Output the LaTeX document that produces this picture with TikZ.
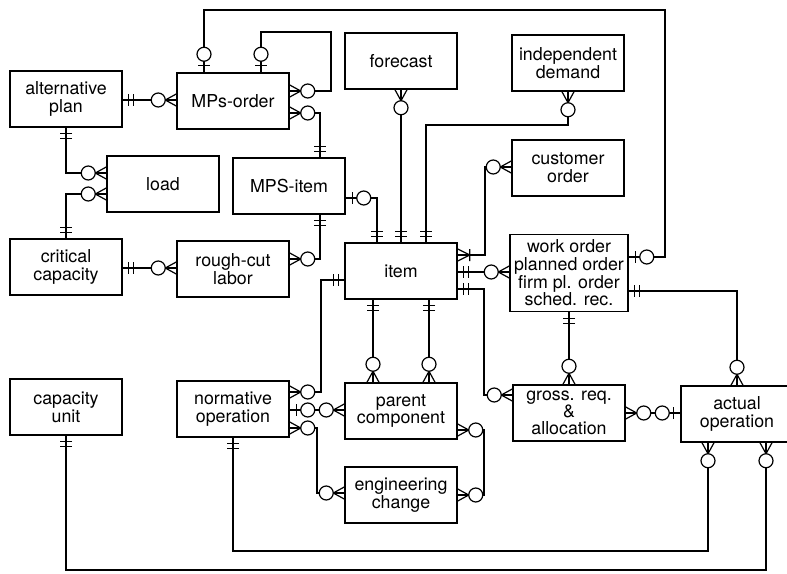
\documentclass[tikz,border=0pt]{standalone}
\usepackage{fontspec}
\setmainfont{TeX Gyre Heros}
\usetikzlibrary{calc}

\begin{document}
\begin{tikzpicture}[
    x=1pt, y=-1pt, line width=1.2pt,
    font=\fontsize{17.8}{17.7}\selectfont,
    ent/.style={draw, line width=1.5pt, align=center, minimum width=112pt, minimum height=56pt, inner sep=2pt},
    one/.pic={\draw (6,-6) -- (6,6) (11,-6) -- (11,6);},
    zone/.pic={\draw (7,-6) -- (7,6); \draw[fill=white] (18,0) circle[radius=7];},
    zmany/.pic={\draw (0,-6) -- (11,0) -- (0,6); \draw[fill=white] (18,0) circle[radius=7];},
    omany/.pic={\draw (0,-6) -- (12,0) -- (0,6) (12,-6) -- (12,6);},
]
    \useasboundingbox (0,0) rectangle (787,573);
    \node[ent] (alt) at (66,99) {alternative\\plan};
    \node[ent] (mpso) at (233,101) {MPs-order};
    \node[ent] (fcst) at (401,61) {forecast};
    \node[ent] (dem) at (568,63) {independent\\demand};
    \node[ent] (cust) at (568,168) {customer\\order};
    \node[ent] (load) at (163,184) {load};
    \node[ent] (mpsi) at (289,186) {MPS-item};
    \node[ent] (crit) at (66,267) {critical\\capacity};
    \node[ent] (rcl) at (233,269) {rough-cut\\labor};
    \node[ent] (item) at (401,271) {item};
    \node[ent, minimum width=118pt, minimum height=77pt] (wo) at (569,273) {work order\\planned order\\firm pl. order\\sched. rec.};
    \node[ent] (capu) at (66,407) {capacity\\unit};
    \node[ent] (norm) at (233,409) {normative\\operation};
    \node[ent] (pc) at (401,411) {parent\\component};
    \node[ent] (ec) at (401,495) {engineering\\change};
    \node[ent, font=\fontsize{17.8}{17}\selectfont, inner sep=1pt] (gra) at (569,413) {gross. req.\\\&\\allocation};
    \node[ent] (act) at (737,414) {actual\\operation};
    \draw (alt.east |- 0,100) pic{one} -- (mpso.west |- 0,100) pic[rotate=180]{zmany};
    \draw (mpso.north -| 204,0) pic[rotate=90]{zone} |- (665,10) |- (wo.east |- 0,257) pic{zone};
    \draw (mpso.north -| 261,0) pic[rotate=90]{zone} |- (331,32) |- (mpso.east |- 0,91) pic{zmany};
    \draw (mpso.east |- 0,113) pic{zmany} -| (mpsi.north -| 320,0) pic[rotate=90]{one};
    \draw (alt.south) pic[rotate=270]{one} |- (load.west |- 0,173) pic[rotate=180]{zmany};
    \draw (crit.north) pic[rotate=90]{one} |- (load.west |- 0,194) pic[rotate=180]{zmany};
    \draw (crit.east |- 0,268) pic{one} -- (rcl.west |- 0,268) pic[rotate=180]{zmany};
    \draw (mpsi.south -| 320,0) pic[rotate=270]{one} |- (rcl.east |- 0,259) pic{zmany};
    \draw (mpsi.east |- 0,198) pic{zone} -| (item.north -| 377,0) pic[rotate=90]{one};
    \draw (fcst.south) pic[rotate=270]{zmany} -- (item.north) pic[rotate=90]{one};
    \draw (dem.south) pic[rotate=270]{zmany} |- (426,125) -- (item.north -| 426,0) pic[rotate=90]{one};
    \draw (cust.west |- 0,167) pic[rotate=180]{zmany} -| (485,255) -- (item.east |- 0,255) pic{omany};
    \draw (item.east |- 0,272) pic{one} -- (wo.west |- 0,272) pic[rotate=180]{zmany};
    \draw (item.east |- 0,289) pic{one} -| (484,395) -- (gra.west |- 0,395) pic[rotate=180]{zmany};
    \draw (item.west |- 0,280) pic[rotate=180]{one} -| (321,392) -- (norm.east |- 0,392) pic{zmany};
    \draw (item.south -| 373,0) pic[rotate=270]{one} -- (pc.north -| 373,0) pic[rotate=90]{zmany};
    \draw (item.south -| 429,0) pic[rotate=270]{one} -- (pc.north -| 429,0) pic[rotate=90]{zmany};
    \draw (norm.east |- 0,410) pic{zone} -- (pc.west |- 0,410) pic[rotate=180]{zmany};
    \draw (norm.east |- 0,428) pic{zmany} -| (317,493) -- (ec.west |- 0,493) pic[rotate=180]{zmany};
    \draw (pc.east |- 0,430) pic{zmany} -| (484,495) -- (ec.east |- 0,495) pic{zmany};
    \draw (wo.south) pic[rotate=270]{one} -- (gra.north) pic[rotate=90]{zmany};
    \draw (wo.east |- 0,291) pic{one} -| (act.north) pic[rotate=90]{zmany};
    \draw (gra.east |- 0,413) pic{zmany} -- (act.west |- 0,413) pic[rotate=180]{zone};
    \draw (act.south -| 708,0) pic[rotate=270]{zmany} |- (233,551) -- (norm.south) pic[rotate=270]{one};
    \draw (capu.south) pic[rotate=270]{one} |- (766,570) -- (act.south -| 766,0) pic[rotate=270]{zmany};
\end{tikzpicture}
\end{document}
